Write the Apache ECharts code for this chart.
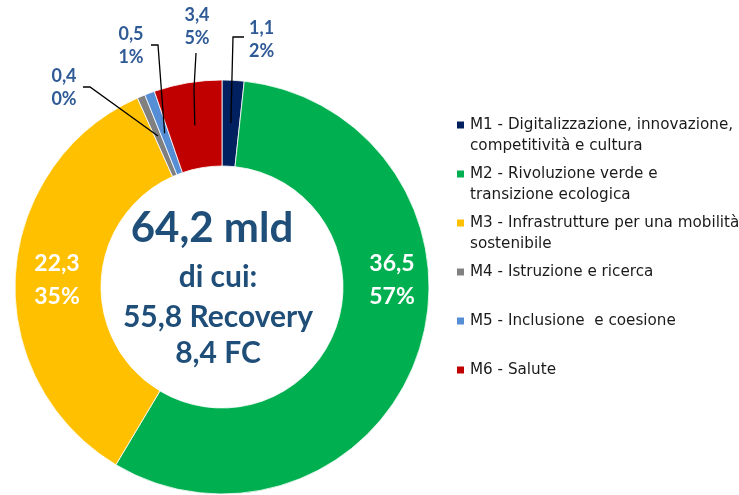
<!DOCTYPE html>
<html><head><meta charset="utf-8">
<script src="https://cdn.jsdelivr.net/npm/echarts@6/dist/echarts.min.js"></script>
<style>html,body{margin:0;padding:0;background:#fff}#c{width:739px;height:495px}</style>
</head><body><div id="c"></div>
<script>
// ---- data ----
const categories = [
  'M1 - Digitalizzazione, innovazione,\ncompetitività e cultura',
  'M2 - Rivoluzione verde e\ntransizione ecologica',
  'M3 - Infrastrutture per una mobilità\nsostenibile',
  'M4 - Istruzione e ricerca',
  'M5 - Inclusione  e coesione',
  'M6 - Salute'
];
const values = [1.1, 36.5, 22.3, 0.4, 0.5, 3.4];
const percentLabels = ['2%', '57%', '35%', '0%', '1%', '5%'];
const centerLines = ['64,2 mld', 'di cui:', '55,8 Recovery', '8,4 FC'];

// ---- style / layout ----
const colors = ['#002060', '#00B050', '#FFC000', '#808080', '#558ED5', '#C00000'];
const insideIdx = [1, 2];
const CX = 222, CY = 287, R_IN = 121, R_OUT = 207, R_MID = (R_IN + R_OUT) / 2;
const labelPlacement = {
  0: { x: 249, y: 40, align: 'left', line: [[233, 37], [244, 37]] },
  1: { x: 392, y: 280, align: 'center' },
  2: { x: 57, y: 280, align: 'center' },
  3: { x: 64, y: 88, align: 'center', line: [[90, 87], [83, 87]] },
  4: { x: 131, y: 46, align: 'center', line: [[158, 45], [151, 45]] },
  5: { x: 197, y: 27, align: 'center', line: [[194, 89], [196, 53]] }
};
const centerPos = [[212, 228], [218, 277], [218, 317], [218, 353]];
const centerFonts = ['bold 42px Lato', 'bold 30px Lato', 'bold 30px Lato', 'bold 30px Lato'];

const fmtVal = v => v.toFixed(1).replace('.', ',');
const isInside = i => insideIdx.indexOf(i) >= 0;

function layoutFn(p) {
  const pl = labelPlacement[p.dataIndex];
  if (!pl) return {};
  const res = { x: pl.x, y: pl.y, align: pl.align, verticalAlign: 'middle' };
  if (pl.line && p.labelLinePoints) {
    res.labelLinePoints = [p.labelLinePoints[0].slice(), pl.line[0], pl.line[1]];
  }
  return res;
}

const chart = echarts.init(document.getElementById('c'), null, { renderer: 'canvas' });
chart.setOption({
  backgroundColor: '#fff',
  animation: false,
  color: colors,
  legend: {
    orient: 'vertical', left: 455, top: 93.5, padding: 0,
    icon: 'rect', itemWidth: 9, itemHeight: 9, itemGap: -14,
    data: categories,
    formatter: n => '\n' + (n.indexOf('\n') >= 0 ? n : n + '\n '),
    textStyle: { fontFamily: 'DejaVu Sans', fontSize: 15.2, lineHeight: 21, color: '#1a1a1a' }
  },
  graphic: centerLines.map((t, i) => ({
    type: 'text', x: centerPos[i][0], y: centerPos[i][1],
    style: { text: t, fill: '#1F4E79', font: centerFonts[i], align: 'center', verticalAlign: 'middle' }
  })),
  series: [{
    // the ring with the inside labels
    type: 'pie',
    z: 2,
    center: [CX, CY],
    radius: [R_IN, R_OUT],
    startAngle: 90,
    clockwise: true,
    avoidLabelOverlap: false,
    itemStyle: { borderColor: '#fff', borderWidth: 0.8 },
    data: categories.map((n, i) => ({
      name: n, value: values[i],
      label: { show: isInside(i) },
      labelLine: { show: false }
    })),
    label: {
      position: 'inside', color: '#fff', fontFamily: 'Lato', fontWeight: 'bold', fontSize: 23, lineHeight: 33,
      formatter: p => fmtVal(p.value) + '\n' + percentLabels[p.dataIndex]
    },
    labelLayout: layoutFn
  }, {
    // invisible helper pie (same data) whose leader lines start at mid-ring
    type: 'pie',
    z: 5,
    silent: true,
    center: [CX, CY],
    radius: [0, R_MID],
    startAngle: 90,
    clockwise: true,
    avoidLabelOverlap: false,
    itemStyle: { color: 'rgba(0,0,0,0)', borderWidth: 0 },
    emphasis: { disabled: true },
    data: categories.map((n, i) => ({
      name: n, value: values[i],
      label: { show: !isInside(i) },
      labelLine: { show: !isInside(i) }
    })),
    label: {
      position: 'outside', color: '#2F5A96', fontFamily: 'Lato', fontWeight: 'bold', fontSize: 18, lineHeight: 23,
      formatter: p => fmtVal(p.value) + '\n' + percentLabels[p.dataIndex]
    },
    labelLine: { lineStyle: { color: '#000', width: 1.3 } },
    labelLayout: layoutFn
  }]
});
</script></body></html>
